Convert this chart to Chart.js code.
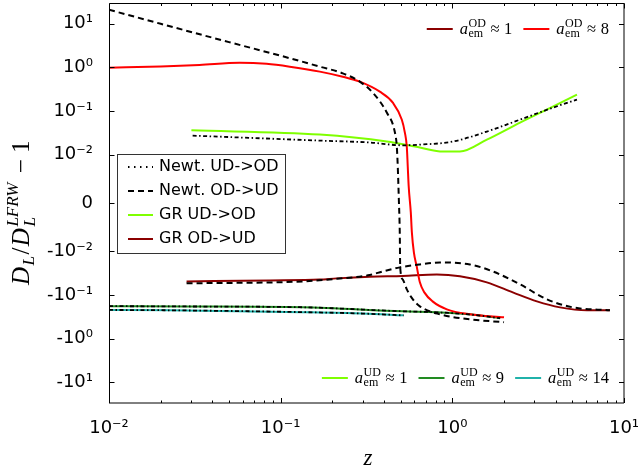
<!DOCTYPE html>
<html><head><meta charset="utf-8">
<script src="https://cdn.jsdelivr.net/npm/chart.js@4.4.0/dist/chart.umd.min.js"></script>
<style>html,body{margin:0;padding:0;background:#fff;}#wrap{width:642px;height:470px;}</style>
</head><body><div id="wrap"><canvas id="c" width="642" height="470"></canvas></div>
<script>
// ---------- tick values / labels ----------
const xTickValues = [0.01, 0.1, 1, 10];
const xTickLabels = ['10\u207B\u00B2', '10\u207B\u00B9', '10\u2070', '10\u00B9'];
const yTickValues = [10, 1, 0.1, 0.01, 0, -0.01, -0.1, -1, -10];
const yTickLabels = ['10\u00B9', '10\u2070', '10\u207B\u00B9', '10\u207B\u00B2', '0', '-10\u207B\u00B2', '-10\u207B\u00B9', '-10\u2070', '-10\u00B9'];

// ---------- series (z, D_L/D_L^LFRW - 1) ----------
// Newtonian, OD->UD, a_em ~ 8 (black dashed)
const zNewtOD8 = [0.01, 0.02, 0.05, 0.1, 0.169, 0.23, 0.289, 0.344, 0.415, 0.463, 0.475, 0.481, 0.488, 0.494, 0.497, 0.514, 0.543, 0.589, 0.647, 0.846, 1.265, 2.0];
const yNewtOD8 = [21, 10, 3.8, 1.85, 1.04, 0.73, 0.47, 0.263, 0.092, 0.032, 0.015, 0.0075, 0.0007, -0.006, -0.023, -0.044, -0.074, -0.126, -0.182, -0.277, -0.361, -0.42];
// GR, OD->UD, a_em ~ 8 (red)
const zGrOD8 = [0.01, 0.02, 0.0337, 0.0577, 0.0828, 0.113, 0.169, 0.23, 0.289, 0.378, 0.45, 0.508, 0.529, 0.543, 0.55, 0.557, 0.573, 0.581, 0.597, 0.62, 0.647, 0.687, 0.767, 0.929, 1.265, 2.0];
const yGrOD8 = [0.98, 1.05, 1.14, 1.28, 1.21, 1.04, 0.80, 0.61, 0.47, 0.277, 0.155, 0.063, 0.032, 0.015, 0.0075, 0.0034, -0.002, -0.006, -0.0105, -0.022, -0.051, -0.087, -0.14, -0.213, -0.277, -0.325];
// Newtonian, OD->UD, a_em ~ 1 (black dashed)
const zNewtOD1 = [0.0283, 0.134, 0.212, 0.33, 0.394, 0.494, 0.647, 0.846, 1.265, 1.72, 2.48, 3.56, 5.04, 8.28];
const yNewtOD1 = [-0.054, -0.0487, -0.0426, -0.0348, -0.0287, -0.0232, -0.0199, -0.0179, -0.0199, -0.0287, -0.057, -0.1256, -0.192, -0.224];
// GR, OD->UD, a_em ~ 1 (dark red)
const zGrOD1 = [0.0283, 0.0863, 0.169, 0.212, 0.33, 0.514, 0.812, 1.107, 1.589, 2.25, 3.11, 4.24, 6.08, 8.28];
const yGrOD1 = [-0.0487, -0.0464, -0.0443, -0.0415, -0.038, -0.0365, -0.034, -0.0373, -0.0513, -0.087, -0.14, -0.192, -0.224, -0.224];
// Newtonian, UD->OD, a_em ~ 1 (black dash-dot)
const zNewtUD1 = [0.0307, 0.169, 0.33, 0.514, 0.647, 1.007, 1.589, 2.48, 3.85, 5.32];
const yNewtUD1 = [0.0272, 0.0209, 0.0189, 0.0163, 0.0169, 0.0199, 0.0337, 0.0633, 0.119, 0.182];
// GR, UD->OD, a_em ~ 1 (chartreuse)
const zGrUD1 = [0.0302, 0.169, 0.415, 0.647, 0.881, 1.107, 1.589, 2.48, 3.85, 5.32];
const yGrUD1 = [0.036, 0.0287, 0.0199, 0.0145, 0.0117, 0.0117, 0.022, 0.054, 0.126, 0.237];
// GR / Newtonian, UD->OD, a_em ~ 9
const zGrUD9 = [0.01, 0.0283, 0.134, 0.514, 0.812, 1.265, 1.9];
const yGrUD9 = [-0.180, -0.183, -0.190, -0.237, -0.247, -0.277, -0.34];
const zNewtUD9 = [0.01, 0.0283, 0.134, 0.514, 0.812, 1.265, 1.9];
const yNewtUD9 = [-0.180, -0.183, -0.191, -0.236, -0.249, -0.28, -0.34];
// GR / Newtonian, UD->OD, a_em ~ 14
const zGrUD14 = [0.01, 0.0225, 0.134, 0.3, 0.52];
const yGrUD14 = [-0.220, -0.224, -0.247, -0.265, -0.292];
const zNewtUD14 = [0.01, 0.0225, 0.134, 0.3, 0.52];
const yNewtUD14 = [-0.220, -0.224, -0.247, -0.266, -0.293];

// ---------- legend contents ----------
const legendMainLabels = ['Newt. UD->OD', 'Newt. OD->UD', 'GR UD->OD', 'GR OD->UD'];
const legendODValues = ['1', '8'];
const legendUDValues = ['1', '9', '14'];

const C_RED = '#ff0000', C_DRED = '#8b0000', C_LIME = '#7fff00', C_GREEN = '#228b22', C_TEAL = '#20b2aa';
const DASH = [6, 4], DASHDOT = [4, 2.5, 1.5, 2.5];

// ---------- symmetric log scale ----------
const LINTHRESH = 0.01, LINSCALE = 1 / (1 - 1 / 10);
function symT(v) { const a = Math.abs(v); return a <= LINTHRESH ? v / LINTHRESH * LINSCALE : Math.sign(v) * (LINSCALE + Math.log10(a / LINTHRESH)); }
function symInv(t) { const a = Math.abs(t); return a <= LINSCALE ? t / LINSCALE * LINTHRESH : Math.sign(t) * LINTHRESH * Math.pow(10, a - LINSCALE); }
class SymLogScale extends Chart.LinearScale {
  static id = 'symlog';
  static defaults = Chart.LinearScale.defaults;
  determineDataLimits() { this.min = symT(this.options.min); this.max = symT(this.options.max); }
  buildTicks() { return yTickValues.map(v => ({ value: v })); }
  getPixelForValue(v) { if (v === null || v === undefined || isNaN(v)) return NaN; return this.getPixelForDecimal((symT(v) - this._startValue) / this._valueRange); }
  getValueForPixel(p) { return symInv(this._startValue + this.getDecimalForPixel(p) * this._valueRange); }
}
Chart.register(SymLogScale);

function pts(zs, ys) { return zs.map((z, i) => ({ x: z, y: ys[i] })); }
function ds(label, zs, ys, color, dash, w) {
  return { label, data: pts(zs, ys), borderColor: color, borderWidth: w || 2, borderDash: dash || [], pointRadius: 0, fill: false, cubicInterpolationMode: 'monotone' };
}

const datasets = [
  ds('Newt UD a14', zNewtUD14, yNewtUD14, '#000', DASHDOT, 1.8),
  ds('Newt UD a9', zNewtUD9, yNewtUD9, '#000', DASHDOT, 1.8),
  ds('Newt UD a1', zNewtUD1, yNewtUD1, '#000', DASHDOT, 1.8),
  ds('Newt OD a1', zNewtOD1, yNewtOD1, '#000', DASH, 2),
  ds('Newt OD a8', zNewtOD8, yNewtOD8, '#000', DASH, 2),
  ds('GR OD a8', zGrOD8, yGrOD8, C_RED, null, 2),
  ds('GR OD a1', zGrOD1, yGrOD1, C_DRED, null, 2),
  ds('GR UD a1', zGrUD1, yGrUD1, C_LIME, null, 2),
  ds('GR UD a9', zGrUD9, yGrUD9, C_GREEN, null, 2),
  ds('GR UD a14', zGrUD14, yGrUD14, C_TEAL, null, 2),
];

const SERIF = '"Liberation Serif", "DejaVu Serif", serif';
const SANS = '"DejaVu Sans", sans-serif';

function drawMathLabel(ctx, x, y, val, sup, size) {
  let cx = x;
  ctx.textBaseline = 'alphabetic'; ctx.textAlign = 'left';
  ctx.font = 'italic ' + size + 'px ' + SERIF; ctx.fillText('a', cx, y); cx += ctx.measureText('a').width + 0.5;
  const small = Math.round(size * 0.7);
  ctx.font = small + 'px ' + SERIF;
  const wSub = ctx.measureText('em').width, wSup = ctx.measureText(sup).width;
  ctx.fillText('em', cx, y + size * 0.22); ctx.fillText(sup, cx, y - size * 0.42);
  cx += Math.max(wSub, wSup) + size * 0.28;
  ctx.font = size + 'px ' + SERIF; ctx.fillText('\u2248', cx, y); cx += ctx.measureText('\u2248').width + size * 0.28;
  ctx.fillText(val, cx, y); cx += ctx.measureText(val).width;
  return cx - x;
}
function measureMathLabel(ctx, val, sup, size) {
  ctx.font = 'italic ' + size + 'px ' + SERIF; let w = ctx.measureText('a').width + 0.5;
  const small = Math.round(size * 0.7); ctx.font = small + 'px ' + SERIF;
  w += Math.max(ctx.measureText('em').width, ctx.measureText(sup).width) + size * 0.28;
  ctx.font = size + 'px ' + SERIF; w += ctx.measureText('\u2248').width + size * 0.28 + ctx.measureText(val).width;
  return w;
}
function drawColorLegend(ctx, rightX, lineY, vals, colors, sup) {
  const size = 16.5, sample = 26, gapT = 7, gapE = 11;
  const widths = vals.map(v => measureMathLabel(ctx, v, sup, size));
  let total = 0; widths.forEach((w, i) => { total += sample + gapT + w + (i ? gapE : 0); });
  let x = rightX - total;
  vals.forEach((v, i) => {
    ctx.strokeStyle = colors[i]; ctx.lineWidth = 2; ctx.setLineDash([]);
    ctx.beginPath(); ctx.moveTo(x, lineY); ctx.lineTo(x + sample, lineY); ctx.stroke();
    x += sample + gapT;
    ctx.fillStyle = '#000';
    drawMathLabel(ctx, x, lineY + 4.5, v, sup, size);
    x += widths[i] + gapE;
  });
}

const decor = {
  id: 'decor',
  afterDatasetsDraw(chart) {
    const ctx = chart.ctx, a = chart.chartArea, xs = chart.scales.x, ys = chart.scales.y;
    const L = Math.round(a.left) + 0.5, R = Math.round(a.right), T = Math.round(a.top) + 0.5, B = Math.round(a.bottom);
    ctx.save();
    ctx.setLineDash([]); ctx.strokeStyle = '#000'; ctx.lineWidth = 1;
    ctx.beginPath();
    ctx.moveTo(L, T); ctx.lineTo(R, T); ctx.moveTo(L, T); ctx.lineTo(L, B);
    ctx.stroke();
    ctx.beginPath();
    ctx.moveTo(R, T - 0.5); ctx.lineTo(R, B); ctx.moveTo(L - 0.5, B); ctx.lineTo(R, B);
    ctx.stroke();
    // x ticks (major + minor), inward, top and bottom
    ctx.beginPath();
    for (let d = -2; d <= 1; d++) {
      for (let m = 1; m <= 9; m++) {
        const v = m * Math.pow(10, d); if (v < 0.00999 || v > 10.001) continue;
        const px = Math.round(xs.getPixelForValue(v)) + 0.5; const len = m === 1 ? 5 : 2.5;
        ctx.moveTo(px, B); ctx.lineTo(px, B - len); ctx.moveTo(px, T); ctx.lineTo(px, T + len);
      }
    }
    yTickValues.forEach(v => { const py = Math.round(ys.getPixelForValue(v)) + 0.5; ctx.moveTo(L, py); ctx.lineTo(L + 5, py); ctx.moveTo(R, py); ctx.lineTo(R - 5, py); });
    ctx.stroke();

    // main legend box
    const bx = 117.5, by = 154.5, bw = 168, bh = 99;
    ctx.fillStyle = '#fff'; ctx.fillRect(bx, by, bw, bh);
    ctx.strokeStyle = '#333'; ctx.strokeRect(bx, by, bw, bh);
    const styles = [{ c: '#000', d: [1.5, 4.5], w: 2 }, { c: '#000', d: [6, 4], w: 2 }, { c: C_LIME, d: [], w: 2 }, { c: C_DRED, d: [], w: 2 }];
    const rowsY = [167, 191, 215, 239];
    ctx.font = '16px ' + SANS; ctx.textBaseline = 'middle'; ctx.textAlign = 'left';
    legendMainLabels.forEach((lab, i) => {
      const s = styles[i];
      ctx.strokeStyle = s.c; ctx.lineWidth = s.w; ctx.setLineDash(s.d);
      ctx.beginPath(); ctx.moveTo(128, rowsY[i]); ctx.lineTo(153, rowsY[i]); ctx.stroke();
      ctx.setLineDash([]); ctx.fillStyle = '#000'; ctx.fillText(lab, 159, rowsY[i]);
    });

    // color legends
    drawColorLegend(ctx, 609, 29, legendODValues, [C_DRED, C_RED], 'OD');
    drawColorLegend(ctx, 609, 378, legendUDValues, [C_LIME, C_GREEN, C_TEAL], 'UD');
    ctx.restore();
  },
  afterDraw(chart) {
    const ctx = chart.ctx;
    ctx.save(); ctx.fillStyle = '#000';
    // x title
    ctx.font = 'italic 23px ' + SERIF; ctx.textAlign = 'center'; ctx.textBaseline = 'alphabetic';
    ctx.fillText('z', 368, 465);
    // y title: D_L / D_L^{LFRW} - 1
    ctx.translate(29, 0); ctx.rotate(-Math.PI / 2);
    const big = 25, sm = 17;
    const parts = [
      { t: 'D', f: 'italic ' + big + 'px ' + SERIF, dy: 0 },
      { t: 'L', f: 'italic ' + sm + 'px ' + SERIF, dy: 5 },
      { t: '/', f: big + 'px ' + SERIF, dy: 0 },
      { t: 'D', f: 'italic ' + big + 'px ' + SERIF, dy: 0 },
      { stack: true, sub: 'L', sup: 'LFRW', f: 'italic ' + sm + 'px ' + SERIF },
      { t: ' \u2212 1', f: big + 'px ' + SERIF, dy: 0 }
    ];
    let total = 0;
    parts.forEach(p => { ctx.font = p.f; p.w = p.stack ? Math.max(ctx.measureText(p.sub).width, ctx.measureText(p.sup).width) + 3 : ctx.measureText(p.t).width + 1.5; total += p.w; });
    let cx = -212 - total / 2;
    ctx.textAlign = 'left';
    parts.forEach(p => {
      ctx.font = p.f;
      if (p.stack) { ctx.fillText(p.sub, cx, 6); ctx.fillText(p.sup, cx, -11); }
      else ctx.fillText(p.t, cx, p.dy);
      cx += p.w;
    });
    ctx.restore();
  }
};

new Chart(document.getElementById('c'), {
  type: 'line',
  data: { datasets },
  plugins: [decor],
  options: {
    responsive: false, animation: false, events: [],
    layout: { padding: { top: 3, right: 18, bottom: 0, left: 0 } },
    plugins: { legend: { display: false }, tooltip: { enabled: false } },
    scales: {
      x: {
        type: 'logarithmic', min: 0.01, max: 10,
        grid: { display: false }, border: { display: false },
        afterBuildTicks: s => { s.ticks = xTickValues.map(v => ({ value: v, major: true })); },
        afterFit: s => { s.height = 67; s.paddingLeft = 0; s.paddingRight = 0; },
        ticks: { autoSkip: false, maxRotation: 0, color: '#000', padding: 7, font: { family: 'DejaVu Sans', size: 18 }, callback: (v, i) => xTickLabels[i] }
      },
      y: {
        type: 'symlog', min: -30, max: 30,
        grid: { display: false }, border: { display: false },
        afterFit: s => { s.width = 109; s.paddingTop = 0; s.paddingBottom = 0; },
        ticks: { autoSkip: false, color: '#000', padding: 8, font: { family: 'DejaVu Sans', size: 18 }, callback: (v, i) => yTickLabels[i] }
      }
    }
  }
});
</script></body></html>
